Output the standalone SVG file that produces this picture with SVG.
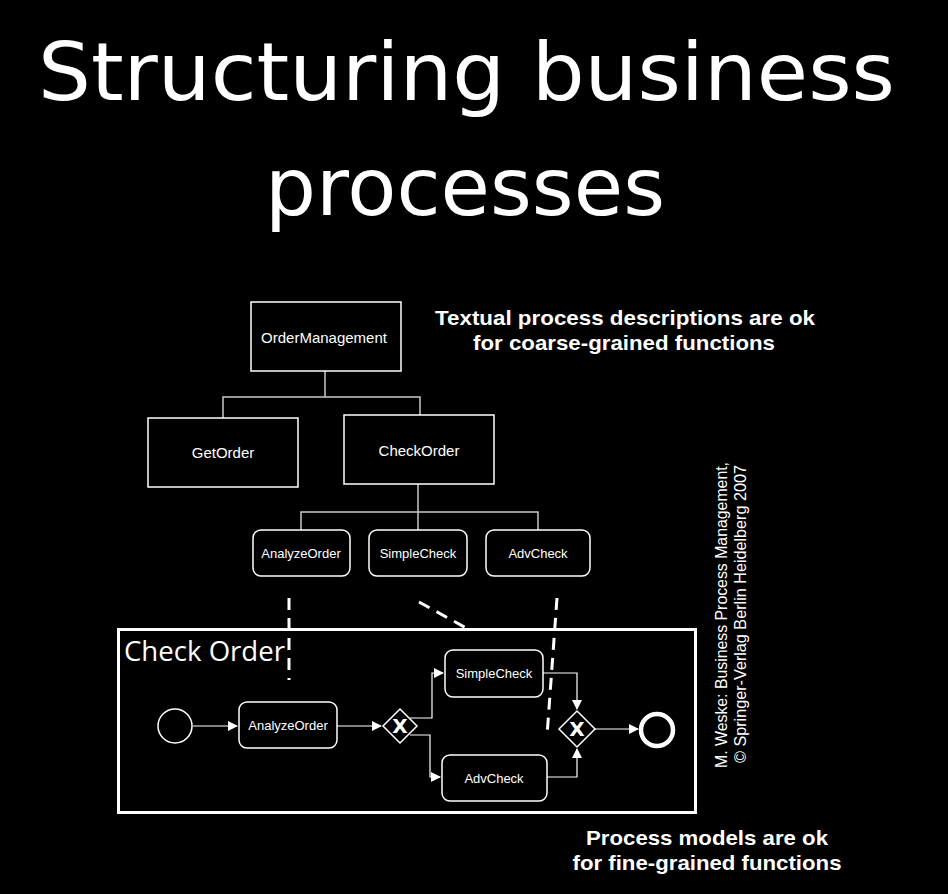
<svg xmlns="http://www.w3.org/2000/svg" width="948" height="894" viewBox="0 0 948 894">
<defs>
<style>
.bg{fill:#000}
.title{font-family:"DejaVu Sans",sans-serif;font-size:80px;fill:#fff}
.box{fill:#000;stroke:#fff;stroke-width:1.5}
.lbl{font-family:"Liberation Sans",Arial,sans-serif;fill:#fff;text-anchor:middle;dominant-baseline:central}
.l14{font-size:15px}
.l12{font-size:13px}
.conn{fill:none;stroke:#c8c8c8;stroke-width:1.5}
.flow{fill:none;stroke:#fff;stroke-width:1.2}
.dash{fill:none;stroke:#fff;stroke-width:3;stroke-dasharray:12,8}
.note{font-family:"Liberation Sans",Arial,sans-serif;font-weight:bold;font-size:21px;fill:#fff;text-anchor:middle}
.cite{font-family:"Liberation Sans",Arial,sans-serif;font-size:16px;fill:#fff;text-anchor:middle}
.gw{fill:#000;stroke:#fff;stroke-width:1.5}
.gx{font-family:"DejaVu Sans",sans-serif;font-weight:bold;font-size:20px;fill:#fff;text-anchor:middle;dominant-baseline:central}
</style>
<marker id="ah" markerWidth="10" markerHeight="10" refX="9" refY="5" orient="auto" markerUnits="userSpaceOnUse">
<path d="M0,0 L10,5 L0,10 z" fill="#fff"/>
</marker>
</defs>
<rect class="bg" x="0" y="0" width="948" height="894"/>

<text class="title" x="38" y="100" textLength="857" lengthAdjust="spacingAndGlyphs">Structuring business</text>
<text class="title" x="265" y="215" textLength="400" lengthAdjust="spacingAndGlyphs">processes</text>

<text class="note" x="625" y="325" textLength="380" lengthAdjust="spacingAndGlyphs">Textual process descriptions are ok</text>
<text class="note" x="624" y="350" textLength="302" lengthAdjust="spacingAndGlyphs">for coarse-grained functions</text>
<text class="note" x="707" y="845" textLength="242" lengthAdjust="spacingAndGlyphs">Process models are ok</text>
<text class="note" x="707" y="870" textLength="269" lengthAdjust="spacingAndGlyphs">for fine-grained functions</text>

<g id="citation">
<text class="cite" transform="translate(727,615) rotate(-90)" textLength="306" lengthAdjust="spacingAndGlyphs">M. Weske: Business Process Management,</text>
<text class="cite" transform="translate(746,614) rotate(-90)" textLength="298" lengthAdjust="spacingAndGlyphs">© Springer-Verlag Berlin Heidelberg 2007</text>
</g>

<g id="connectors">
<path class="conn" d="M325,371 V397 M223,418 V397 H420 V415"/>
<path class="conn" d="M418,484 V512 M301,530 V512 H538 V530 M418,512 V530"/>
<path class="flow" d="M193,726 H237" marker-end="url(#ah)"/>
<path class="flow" d="M337,726 H381" marker-end="url(#ah)"/>
<path class="flow" d="M410,718 H432 V673 H443" marker-end="url(#ah)"/>
<path class="flow" d="M410,735 H430 V777 H440" marker-end="url(#ah)"/>
<path class="flow" d="M543,673 H577 V709" marker-end="url(#ah)"/>
<path class="flow" d="M547,777 H577 V749" marker-end="url(#ah)"/>
<path class="flow" d="M595,729 H638" marker-end="url(#ah)"/>
<path class="dash" d="M289,598 V680"/>
<path class="dash" d="M419,602 L468,629"/>
<path class="dash" d="M557,598 L547,736"/>
</g>

<g id="OrderManagement"><rect class="box" x="251" y="302" width="150" height="69"/><text class="lbl l14" x="324" y="337">OrderManagement</text></g>
<g id="GetOrder"><rect class="box" x="148" y="418" width="150" height="69"/><text class="lbl l14" x="223" y="452">GetOrder</text></g>
<g id="CheckOrder"><rect class="box" x="344" y="415" width="150" height="69"/><text class="lbl l14" x="419" y="450">CheckOrder</text></g>
<g id="AnalyzeOrderTree"><rect class="box" x="253" y="530" width="97" height="46" rx="8"/><text class="lbl l12" x="301" y="553">AnalyzeOrder</text></g>
<g id="SimpleCheckTree"><rect class="box" x="369" y="530" width="98" height="46" rx="8"/><text class="lbl l12" x="418" y="553">SimpleCheck</text></g>
<g id="AdvCheckTree"><rect class="box" x="486" y="530" width="104" height="46" rx="8"/><text class="lbl l12" x="538" y="553">AdvCheck</text></g>

<g id="CheckOrderPool">
<rect x="118.5" y="629.5" width="577" height="183" fill="none" stroke="#fff" stroke-width="3"/>
<text x="124" y="661" font-family="'Open Sans','Liberation Sans',sans-serif" font-size="27" fill="#fff" textLength="161" lengthAdjust="spacingAndGlyphs">Check Order</text>
</g>
<g id="Start"><circle cx="175" cy="726" r="17" fill="#000" stroke="#fff" stroke-width="1.5"/></g>
<g id="AnalyzeOrder"><rect class="box" x="239" y="702" width="98" height="46" rx="8"/><text class="lbl l12" x="288" y="725">AnalyzeOrder</text></g>
<g id="Gateway1"><path class="gw" d="M400,709 L417,726 L400,743 L383,726 z"/><text class="gx" x="400" y="726">X</text></g>
<g id="SimpleCheck"><rect class="box" x="445" y="650" width="98" height="47" rx="8"/><text class="lbl l12" x="494" y="673">SimpleCheck</text></g>
<g id="AdvCheck"><rect class="box" x="442" y="755" width="105" height="46" rx="8"/><text class="lbl l12" x="494" y="778">AdvCheck</text></g>
<g id="Gateway2"><path class="gw" d="M577,711 L595,729 L577,747 L559,729 z"/><text class="gx" x="577" y="729">X</text></g>
<g id="End"><circle cx="657" cy="730" r="16" fill="#000" stroke="#fff" stroke-width="4.5"/></g>
</svg>
